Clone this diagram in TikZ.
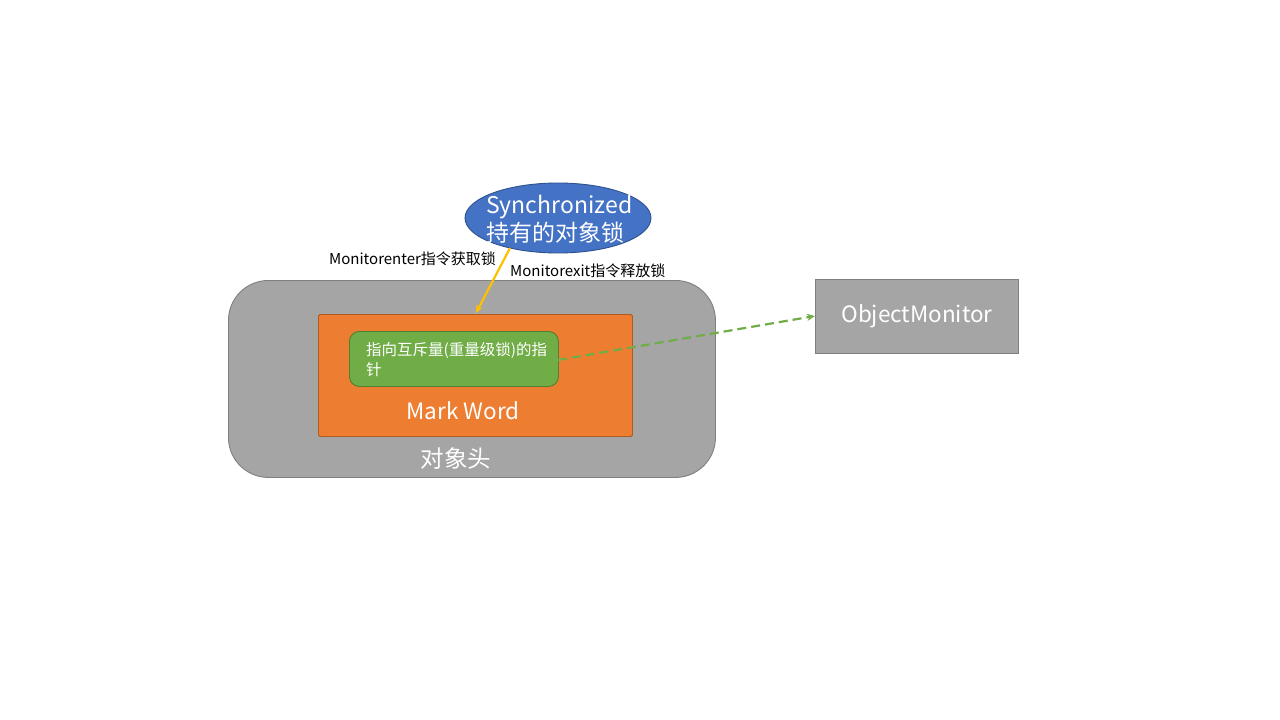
\documentclass[tikz,border=0pt]{standalone}
\usepackage{fontspec}
\setmainfont{Noto Sans CJK SC}
\usetikzlibrary{shapes.geometric,arrows.meta}
\definecolor{gfill}{HTML}{A5A5A5}
\definecolor{gline}{HTML}{7F7F7F}
\definecolor{ofill}{HTML}{ED7D31}
\definecolor{oline}{HTML}{AE5A21}
\definecolor{grfill}{HTML}{70AD47}
\definecolor{grline}{HTML}{507E32}
\definecolor{bfill}{HTML}{4472C4}
\definecolor{bline}{HTML}{2F528F}
\definecolor{ylw}{HTML}{FFC000}
\tikzset{
  box/.style={draw, line width=0.9pt, inner sep=0pt, anchor=north west},
  wtext/.style={text=white, inner sep=0pt},
  lbl/.style={text=black, inner sep=0pt, font=\fontsize{15}{17}\selectfont},
}
\begin{document}
\begin{tikzpicture}[x=1pt,y=-1pt]
\useasboundingbox (0,0) rectangle (1280,720);
\fill[white] (0,0) rectangle (1280,720);
% object header
\node[box, fill=gfill, draw=gline, rounded corners=40pt, minimum width=487pt, minimum height=197pt] (hdr) at (228,280) {};
\node[wtext, font=\fontsize{23.5}{27}\selectfont] (hdrt) at (456,459) {对象头};
% mark word
\node[box, fill=ofill, draw=oline, rounded corners=1.5pt, minimum width=314pt, minimum height=122pt] (mw) at (318,314) {};
\node[wtext, font=\fontsize{22.5}{26}\selectfont] (mwt) at (463,411) {Mark Word};
% pointer
\node[box, fill=grfill, draw=grline, rounded corners=10pt, minimum width=209pt, minimum height=55pt] (ptr) at (349,331) {};
\node[wtext, anchor=north west, align=left, font=\fontsize{15.5}{20}\selectfont] (ptrt) at (366,342) {指向互斥量(重量级锁)的指\\针};
% ellipse
\node[ellipse, draw=bline, line width=0.9pt, fill=bfill, minimum width=186pt, minimum height=70pt, inner sep=0pt] (sync) at (558,218) {};
\node[wtext, anchor=west, align=left, font=\fontsize{23}{28}\selectfont] (synct) at (486,219) {Synchronized\\持有的对象锁};
% object monitor
\node[box, fill=gfill, draw=gline, minimum width=203pt, minimum height=74pt] (om) at (815,279) {};
\node[wtext, font=\fontsize{22.5}{26}\selectfont] (omt) at (om.center) {ObjectMonitor};
% labels
\node[lbl, anchor=west] (l1) at (329,259) {Monitorenter指令获取锁};
\node[lbl, anchor=west] (l2) at (510,271) {Monitorexit指令释放锁};
% arrows
\coordinate (ya) at (510,248);
\coordinate (yb) at (476,313);
\draw[ylw, line width=2.2pt, -{Stealth[length=8pt,width=7pt]}] (ya) -- (yb);
\coordinate (ga) at (558,360);
\coordinate (gb) at (815,316);
\draw[grfill, line width=2.2pt, dash pattern=on 9pt off 5pt, -{Stealth[length=8pt,width=7pt]}] (ga) -- (gb);
\end{tikzpicture}
\end{document}
